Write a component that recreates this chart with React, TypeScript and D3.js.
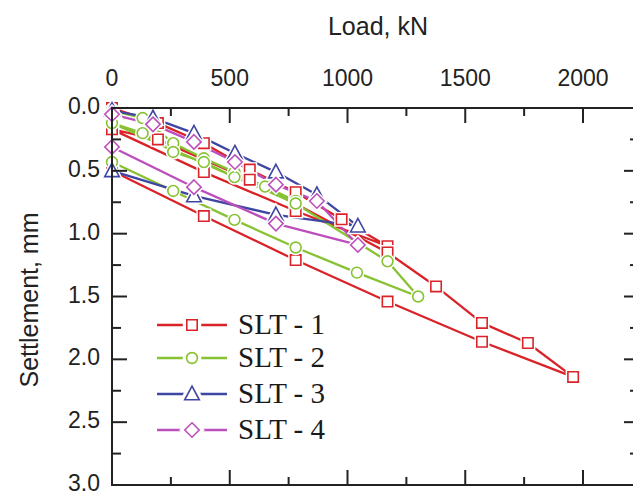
import React from 'react';
import * as d3 from 'd3';

const xTicksMajor = [0, 500, 1000, 1500, 2000];
const xTicksMinor = [250, 750, 1250, 1750];
const yTicksMajor = [0, 0.5, 1, 1.5, 2, 2.5, 3];
const yTicksMinor = [0.25, 0.75, 1.25, 1.75, 2.25, 2.75];

const seriesNames = ['SLT - 1', 'SLT - 2', 'SLT - 3', 'SLT - 4'];

const slt1Load = [0, 195, 390, 585, 780, 975, 1170, 780, 390, 0, 195, 585, 1170, 1376, 1571, 1766, 1958, 1571, 1170, 780, 390, 0];
const slt1Settle = [0.0, 0.12, 0.28, 0.49, 0.67, 0.886, 1.1, 0.82, 0.51, 0.17, 0.25, 0.57, 1.15, 1.42, 1.71, 1.87, 2.14, 1.86, 1.54, 1.21, 0.86, 0.5];

const slt2Load = [0, 130, 260, 390, 520, 650, 780, 520, 390, 260, 130, 0, 780, 1170, 1300, 1040, 780, 520, 260, 0];
const slt2Settle = [0.02, 0.08, 0.28, 0.4, 0.51, 0.625, 0.74, 0.55, 0.43, 0.35, 0.2, 0.12, 0.76, 1.22, 1.5, 1.31, 1.11, 0.89, 0.66, 0.43];

const slt3Load = [0, 174, 348, 522, 696, 870, 1044, 696, 348, 0];
const slt3Settle = [0.02, 0.08, 0.2, 0.36, 0.51, 0.69, 0.94, 0.85, 0.7, 0.5];

const slt4Load = [0, 174, 348, 522, 696, 870, 1044, 696, 348, 0];
const slt4Settle = [0.05, 0.13, 0.27, 0.43, 0.61, 0.74, 1.09, 0.92, 0.63, 0.31];

const loads = [slt1Load, slt2Load, slt3Load, slt4Load];
const settles = [slt1Settle, slt2Settle, slt3Settle, slt4Settle];
const colors = ['#da2329', '#86c232', '#3f45a3', '#bd4fbd'];
const symbols = ['square', 'circle', 'triangle', 'diamond'];

function markerPath(type: string, cx: number, cy: number): string {
  switch (type) {
    case 'square': {
      const s = 5.2;
      return `M${cx - s},${cy - s}H${cx + s}V${cy + s}H${cx - s}Z`;
    }
    case 'circle': {
      const r = 5.4;
      return `M${cx - r},${cy}A${r},${r} 0 1,0 ${cx + r},${cy}A${r},${r} 0 1,0 ${cx - r},${cy}Z`;
    }
    case 'triangle': {
      const s = 6.8;
      return `M${cx},${cy - s - 1}L${cx + s + 0.5},${cy + s - 1}L${cx - s - 0.5},${cy + s - 1}Z`;
    }
    default: {
      const s = 7.2;
      return `M${cx},${cy - s}L${cx + s},${cy}L${cx},${cy + s}L${cx - s},${cy}Z`;
    }
  }
}

export default function App() {
  const x = d3.scaleLinear().domain([0, 2000]).range([112, 583]);
  const y = d3.scaleLinear().domain([0, 3]).range([108, 485]);
  const left = x(0);
  const right = 639;
  const top = y(0);
  const bottom = y(3);
  const line = d3
    .line<[number, number]>()
    .x((d) => x(d[0]))
    .y((d) => y(d[1]));

  const data = loads.map((ls, i) => ls.map((l, j) => [l, settles[i][j]] as [number, number]));
  const axisColor = '#222';
  const sans = '"Liberation Sans", Arial, sans-serif';
  const serif = '"Liberation Serif", "Times New Roman", serif';

  const legendY = [325, 358, 394, 430];

  return (
    <svg width={633} height={496} style={{ position: 'absolute', left: 0, top: 0, background: '#fff' }}>
      {data.map((d, i) => (
        <path key={'l' + i} d={line(d) || ''} fill="none" stroke={colors[i]} strokeWidth={2.3} strokeLinejoin="round" />
      ))}
      {data.map((d, i) =>
        d.map((p, j) => (
          <g key={'m' + i + '-' + j}>
            <path d={markerPath(symbols[i], x(p[0]), y(p[1]))} fill="#fff" stroke="#fff" strokeWidth={4.5} />
            <path d={markerPath(symbols[i], x(p[0]), y(p[1]))} fill="#fff" stroke={colors[i]} strokeWidth={1.6} />
          </g>
        ))
      )}
      <rect x={left} y={top} width={right - left} height={bottom - top} fill="none" stroke={axisColor} strokeWidth={2} />
      {xTicksMajor.map((t) => (
        <g key={'xt' + t}>
          <line x1={x(t)} x2={x(t)} y1={top} y2={top + 15} stroke={axisColor} strokeWidth={2} />
          <line x1={x(t)} x2={x(t)} y1={bottom} y2={bottom - 15} stroke={axisColor} strokeWidth={2} />
          <text x={x(t)} y={86} textAnchor="middle" fontFamily={sans} fontSize={23} fill="#222">
            {t}
          </text>
        </g>
      ))}
      {xTicksMinor.map((t) => (
        <g key={'xm' + t}>
          <line x1={x(t)} x2={x(t)} y1={top} y2={top + 8} stroke={axisColor} strokeWidth={2} />
          <line x1={x(t)} x2={x(t)} y1={bottom} y2={bottom - 8} stroke={axisColor} strokeWidth={2} />
        </g>
      ))}
      {yTicksMajor.map((t) => (
        <g key={'yt' + t}>
          <line x1={left} x2={left + 15} y1={y(t)} y2={y(t)} stroke={axisColor} strokeWidth={2} />
          <line x1={right} x2={right - 15} y1={y(t)} y2={y(t)} stroke={axisColor} strokeWidth={2} />
          <text x={100} y={y(t) + 6} textAnchor="end" fontFamily={sans} fontSize={23} fill="#222">
            {t.toFixed(1)}
          </text>
        </g>
      ))}
      {yTicksMinor.map((t) => (
        <g key={'ym' + t}>
          <line x1={left} x2={left + 9} y1={y(t)} y2={y(t)} stroke={axisColor} strokeWidth={2} />
          <line x1={right} x2={right - 9} y1={y(t)} y2={y(t)} stroke={axisColor} strokeWidth={2} />
        </g>
      ))}
      <text x={378} y={35} textAnchor="middle" fontFamily={sans} fontSize={25} fill="#222">
        Load, kN
      </text>
      <text
        transform={`translate(38,300) rotate(-90)`}
        textAnchor="middle"
        fontFamily={sans}
        fontSize={25}
        fill="#222"
      >
        Settlement, mm
      </text>
      {seriesNames.map((n, i) => (
        <g key={'lg' + i}>
          <line x1={157} x2={227} y1={legendY[i]} y2={legendY[i]} stroke={colors[i]} strokeWidth={2.3} />
          <path d={markerPath(symbols[i], 192, legendY[i])} fill="#fff" stroke="#fff" strokeWidth={8} />
          <path d={markerPath(symbols[i], 192, legendY[i])} fill="#fff" stroke={colors[i]} strokeWidth={1.6} />
          <text x={238} y={legendY[i] + 9} fontFamily={serif} fontSize={29} fill="#1a1a1a">
            {n}
          </text>
        </g>
      ))}
    </svg>
  );
}
